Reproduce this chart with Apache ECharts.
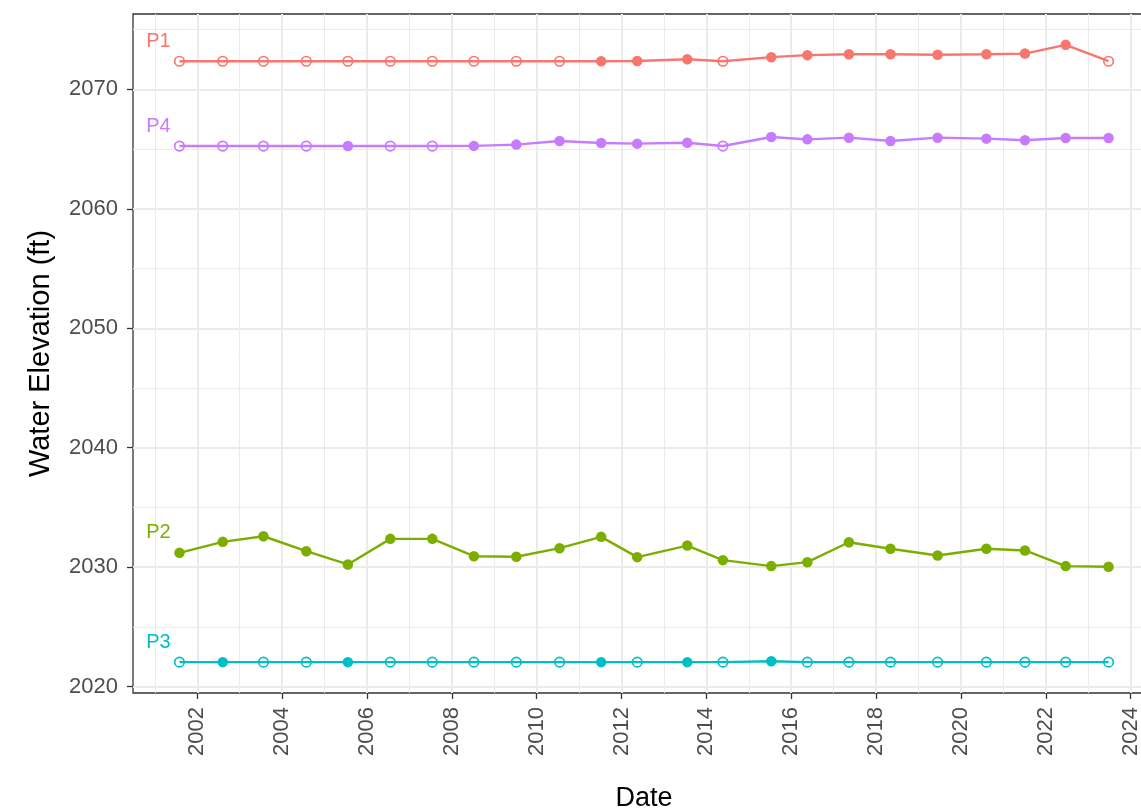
<!DOCTYPE html>
<html>
<head>
<meta charset="utf-8">
<script src="https://cdn.jsdelivr.net/npm/echarts@6/dist/echarts.min.js"></script>
<style>html,body{margin:0;padding:0;background:#fff}#c{width:1141px;height:810px}</style>
</head>
<body>
<div id="c"></div>
<script>
// Sampling dates (decimal years)
const dates = [2001.58, 2002.60, 2003.56, 2004.57, 2005.55, 2006.55, 2007.54, 2008.52, 2009.52, 2010.54, 2011.52, 2012.37, 2013.55, 2014.39, 2015.53, 2016.38, 2017.36, 2018.34, 2019.45, 2020.60, 2021.51, 2022.47, 2023.48];

// Water elevation (ft) per site
const p1 = [2072.36, 2072.36, 2072.36, 2072.36, 2072.36, 2072.36, 2072.36, 2072.36, 2072.36, 2072.36, 2072.36, 2072.38, 2072.53, 2072.36, 2072.70, 2072.87, 2072.95, 2072.95, 2072.90, 2072.95, 2073.00, 2073.73, 2072.36];
const p2 = [2031.20, 2032.12, 2032.59, 2031.34, 2030.23, 2032.37, 2032.37, 2030.92, 2030.87, 2031.59, 2032.54, 2030.84, 2031.81, 2030.59, 2030.09, 2030.42, 2032.09, 2031.54, 2030.98, 2031.54, 2031.40, 2030.09, 2030.03];
const p3 = [2022.05, 2022.05, 2022.05, 2022.05, 2022.05, 2022.05, 2022.05, 2022.05, 2022.05, 2022.05, 2022.05, 2022.05, 2022.05, 2022.05, 2022.12, 2022.05, 2022.05, 2022.05, 2022.05, 2022.05, 2022.05, 2022.05, 2022.05];
const p4 = [2065.26, 2065.26, 2065.26, 2065.26, 2065.26, 2065.26, 2065.26, 2065.27, 2065.38, 2065.68, 2065.51, 2065.46, 2065.54, 2065.26, 2066.02, 2065.82, 2065.96, 2065.68, 2065.96, 2065.88, 2065.74, 2065.93, 2065.93];

// Measured (true) vs not measured (false) -> filled vs open circles
const p1Measured = [false, false, false, false, false, false, false, false, false, false, true, true, true, false, true, true, true, true, true, true, true, true, false];
const p2Measured = [true, true, true, true, true, true, true, true, true, true, true, true, true, true, true, true, true, true, true, true, true, true, true];
const p3Measured = [false, true, false, false, true, false, false, false, false, false, true, false, true, false, true, false, false, false, false, false, false, false, false];
const p4Measured = [false, false, false, false, true, false, false, true, true, true, true, true, true, false, true, true, true, true, true, true, true, true, true];

const siteNames = ['P1', 'P2', 'P3', 'P4'];

// Axis ticks
const xMajorTicks = [2002, 2004, 2006, 2008, 2010, 2012, 2014, 2016, 2018, 2020, 2022, 2024];
const xMinorTicks = [2001, 2003, 2005, 2007, 2009, 2011, 2013, 2015, 2017, 2019, 2021, 2023];
const yMajorTicks = [2020, 2030, 2040, 2050, 2060, 2070];
const yMinorTicks = [2025, 2035, 2045, 2055, 2065, 2075];

const colors = ['#F8766D', '#7CAE00', '#00BFC4', '#C77CFF'];
const FONT = 'Liberation Sans, Arial, Helvetica, sans-serif';

// ggplot-like expansion (5%)
const allY = p1.concat(p2, p3, p4);
const xMinD = Math.min(...dates), xMaxD = Math.max(...dates);
const yMinD = Math.min(...allY), yMaxD = Math.max(...allY);
const xPad = (xMaxD - xMinD) * 0.05, yPad = (yMaxD - yMinD) * 0.05;
const xMin = xMinD - xPad, xMax = xMaxD + xPad;
const yMin = yMinD - yPad, yMax = yMaxD + yPad;

function buildSeries(name, vals, measured, color) {
  return {
    name: name,
    type: 'line',
    symbol: 'circle',
    lineStyle: { color: color, width: 2.4 },
    itemStyle: { color: color },
    emphasis: { disabled: true },
    label: {
      show: false,
      formatter: '{a}',
      color: color,
      fontSize: 20,
      fontFamily: FONT,
      position: 'inside',
      align: 'center',
      verticalAlign: 'middle',
      offset: [-21, -20]
    },
    data: vals.map((v, i) => {
      const item = {
        value: [dates[i], v],
        symbolSize: measured[i] ? 10.5 : 9.5,
        itemStyle: measured[i]
          ? { color: color, borderWidth: 0 }
          : { color: 'rgba(255,255,255,0)', borderColor: color, borderWidth: 1.7 }
      };
      if (i === 0) item.label = { show: true };
      return item;
    }),
    z: 3
  };
}

const chart = echarts.init(document.getElementById('c'), null, { renderer: 'canvas' });
chart.setOption({
  animation: false,
  backgroundColor: '#fff',
  grid: {
    left: 133, top: 14, right: -14, bottom: 117,
    outerBoundsMode: 'none', containLabel: false,
    show: true, backgroundColor: '#fff', borderColor: '#333333', borderWidth: 1.3
  },
  xAxis: [
    {
      type: 'value', min: xMin, max: xMax,
      name: 'Date', nameLocation: 'middle', nameGap: 92,
      nameTextStyle: { fontSize: 27, color: '#000', fontFamily: FONT },
      axisLine: { show: false },
      axisTick: { show: true, length: 6, customValues: xMajorTicks, lineStyle: { color: '#333333', width: 1.3 } },
      axisLabel: { show: true, customValues: xMajorTicks, rotate: 90, margin: 14, fontSize: 22, color: '#4D4D4D', fontFamily: FONT, formatter: v => String(v) },
      splitLine: { show: true, lineStyle: { color: '#EBEBEB', width: 2 } }
    },
    {
      type: 'value', min: xMin, max: xMax,
      axisLine: { show: false },
      axisTick: { show: false, customValues: xMinorTicks },
      axisLabel: { show: false },
      splitLine: { show: true, lineStyle: { color: '#EBEBEB', width: 1 } }
    }
  ],
  yAxis: [
    {
      type: 'value', min: yMin, max: yMax,
      name: 'Water Elevation (ft)', nameLocation: 'middle', nameGap: 78, nameRotate: 90,
      nameTextStyle: { fontSize: 29, color: '#000', fontFamily: FONT },
      axisLine: { show: false },
      axisTick: { show: true, length: 6, customValues: yMajorTicks, lineStyle: { color: '#333333', width: 1.3 } },
      axisLabel: { show: true, customValues: yMajorTicks, margin: 15, fontSize: 22, color: '#4D4D4D', fontFamily: FONT, formatter: v => String(v) },
      splitLine: { show: true, lineStyle: { color: '#EBEBEB', width: 2 } }
    },
    {
      type: 'value', min: yMin, max: yMax,
      axisLine: { show: false },
      axisTick: { show: false, customValues: yMinorTicks },
      axisLabel: { show: false },
      splitLine: { show: true, lineStyle: { color: '#EBEBEB', width: 1 } }
    }
  ],
  series: [
    buildSeries(siteNames[0], p1, p1Measured, colors[0]),
    buildSeries(siteNames[1], p2, p2Measured, colors[1]),
    buildSeries(siteNames[2], p3, p3Measured, colors[2]),
    buildSeries(siteNames[3], p4, p4Measured, colors[3])
  ]
});
</script>
</body>
</html>
